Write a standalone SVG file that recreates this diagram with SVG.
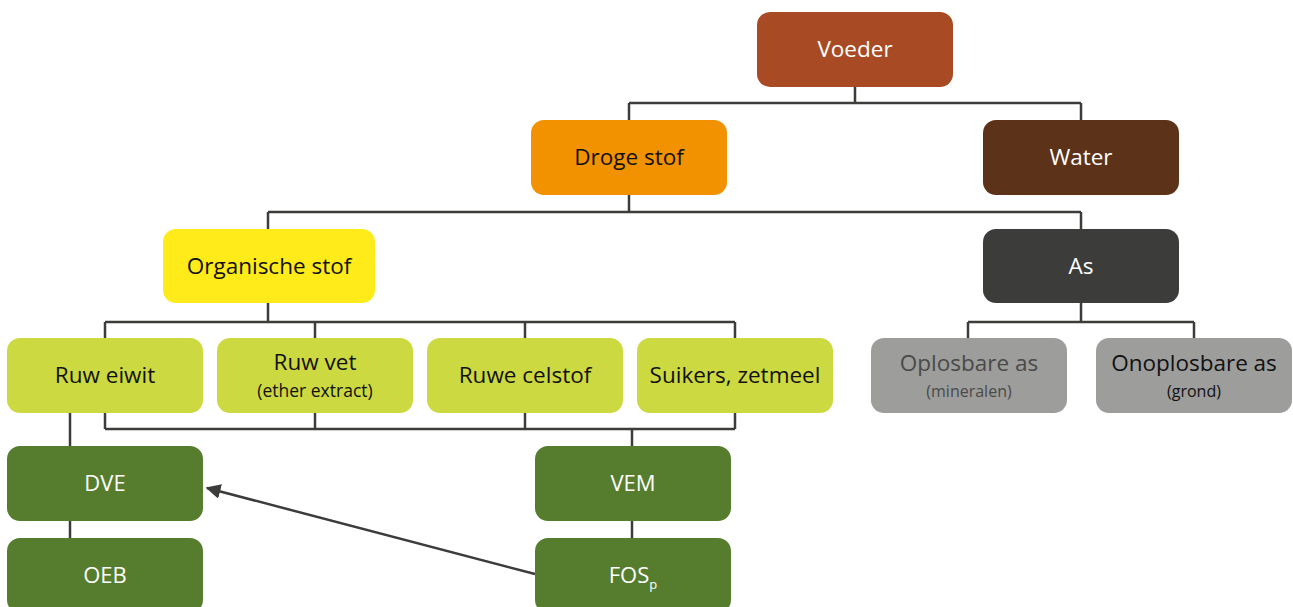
<svg xmlns="http://www.w3.org/2000/svg" width="1293" height="607" viewBox="0 0 1293 607">
<defs>
<style>
.t{font-family:"Open Sans","Noto Sans",sans-serif;font-size:22.5px;text-anchor:middle}
.s{font-family:"Open Sans","Noto Sans",sans-serif;font-size:17.5px;text-anchor:middle}
.c{font-family:"Open Sans","Noto Sans",sans-serif;font-size:22px;text-anchor:middle;fill:#fff}
.w{fill:#fff}
.k{fill:#111}
.ln{fill:none;stroke:#3c3c3b;stroke-width:2.5}
</style>
<marker id="ah" viewBox="0 0 10 10" refX="9" refY="5" markerWidth="6" markerHeight="6" markerUnits="strokeWidth" orient="auto">
<path d="M0,0 L10,5 L0,10 z" fill="#3c3c3b"/>
</marker>
</defs>
<g id="connectors">
<path class="ln" d="M855,87 V103 M629,103 H1081 M629,103 V120 M1081,103 V120"/>
<path class="ln" d="M629,195 V212 M268,212 H1081 M268,212 V229 M1081,212 V229"/>
<path class="ln" d="M268,303 V322 M105,322 H735 M105,322 V338 M315,322 V338 M525,322 V338 M735,322 V338"/>
<path class="ln" d="M105,413 V429 M315,413 V429 M525,413 V429 M735,413 V429 M105,429 H735 M632,429 V446"/>
<path class="ln" d="M1081,303 V322 M968,322 H1194 M968,322 V338 M1194,322 V338"/>
<path class="ln" d="M70,413 V446 M70,521 V538 M632,521 V538"/>
<path class="ln" d="M535,574 L207,488" marker-end="url(#ah)"/>
</g>
<g id="voeder"><rect x="757" y="12" width="196" height="75" rx="13" fill="#a84b25"/><text class="t w" x="855" y="57">Voeder</text></g>
<g id="droge-stof"><rect x="531" y="120" width="196" height="75" rx="13" fill="#f39200"/><text class="t k" x="629" y="165">Droge stof</text></g>
<g id="water"><rect x="983" y="120" width="196" height="75" rx="13" fill="#5c3219"/><text class="t w" x="1081" y="165">Water</text></g>
<g id="organische-stof"><rect x="163" y="229" width="212" height="74" rx="13" fill="#ffeb1a"/><text class="t k" x="269" y="274">Organische stof</text></g>
<g id="as"><rect x="983" y="229" width="196" height="74" rx="13" fill="#3c3c3b"/><text class="t w" x="1081" y="274">As</text></g>
<g id="ruw-eiwit"><rect x="7" y="338" width="196" height="75" rx="13" fill="#cdd940"/><text class="t k" x="105" y="383">Ruw eiwit</text></g>
<g id="ruw-vet"><rect x="217" y="338" width="196" height="75" rx="13" fill="#cdd940"/><text class="t k" x="315" y="370">Ruw vet</text><text class="s k" x="315" y="397">(ether extract)</text></g>
<g id="ruwe-celstof"><rect x="427" y="338" width="196" height="75" rx="13" fill="#cdd940"/><text class="t k" x="525" y="383">Ruwe celstof</text></g>
<g id="suikers"><rect x="637" y="338" width="196" height="75" rx="13" fill="#cdd940"/><text class="t k" x="735" y="383">Suikers, zetmeel</text></g>
<g id="oplosbare-as"><rect x="871" y="338" width="196" height="75" rx="13" fill="#9d9d9c"/><text class="t" fill="#4a4a49" x="969" y="371">Oplosbare as</text><text class="s" fill="#4a4a49" x="969" y="397" style="font-size:16px">(mineralen)</text></g>
<g id="onoplosbare-as"><rect x="1096" y="338" width="196" height="75" rx="13" fill="#9d9d9c"/><text class="t k" x="1194" y="371">Onoplosbare as</text><text class="s k" x="1194" y="397" style="font-size:16px">(grond)</text></g>
<g id="dve"><rect x="7" y="446" width="196" height="75" rx="13" fill="#567d2e"/><text class="c" x="105" y="491">DVE</text></g>
<g id="oeb"><rect x="7" y="538" width="196" height="75" rx="13" fill="#567d2e"/><text class="c" x="105" y="583">OEB</text></g>
<g id="vem"><rect x="535" y="446" width="196" height="75" rx="13" fill="#567d2e"/><text class="c" x="633" y="491">VEM</text></g>
<g id="fos"><rect x="535" y="538" width="196" height="75" rx="13" fill="#567d2e"/><text class="c" x="633" y="583">FOS<tspan dy="6" style="font-size:13px">p</tspan></text></g>
</svg>
